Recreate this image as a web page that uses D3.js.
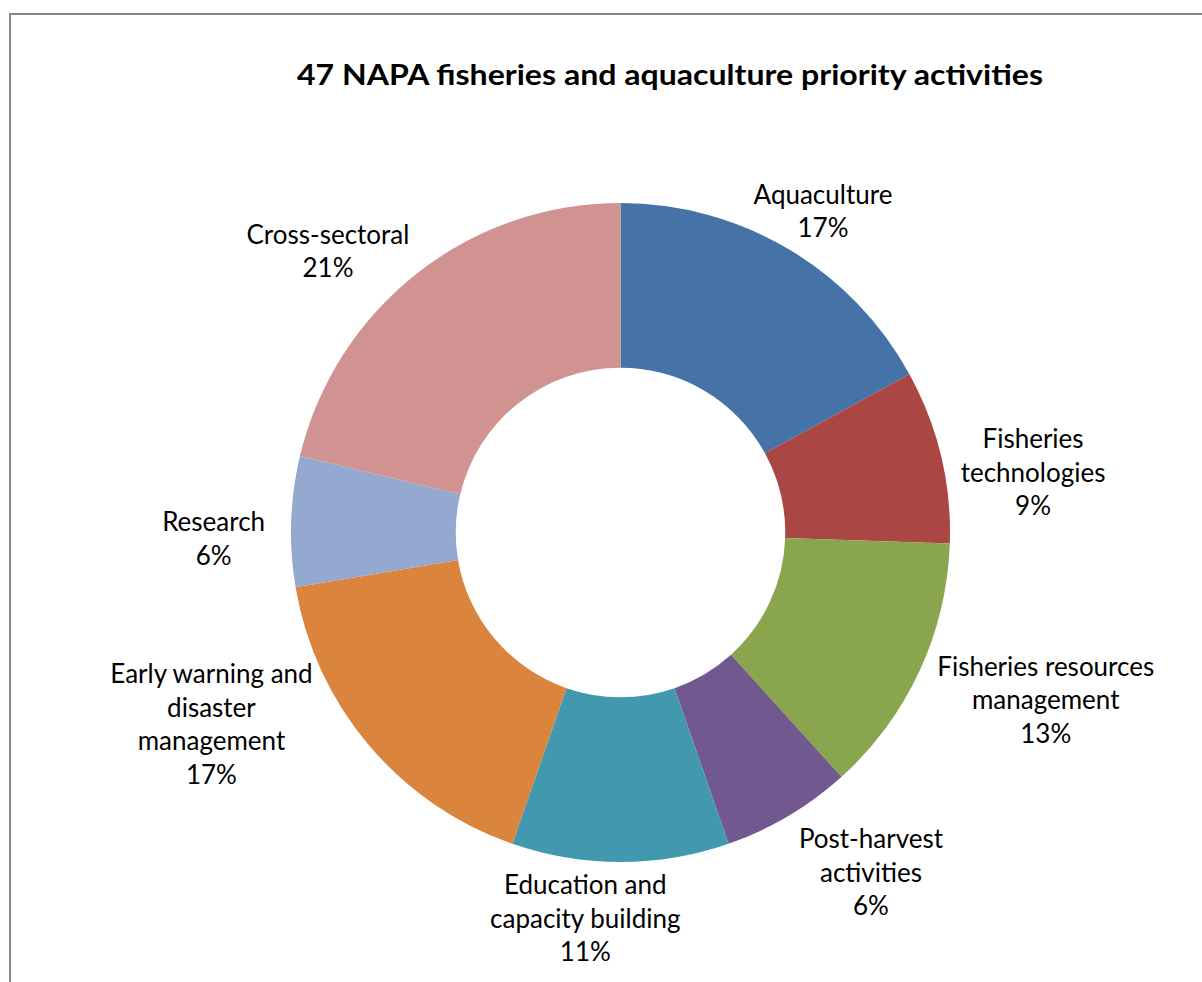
<!DOCTYPE html>
<html>
<head>
<meta charset="utf-8">
<script src="https://cdn.jsdelivr.net/npm/d3@7"></script>
<style>
  html, body { margin: 0; padding: 0; background: #ffffff; overflow: hidden; }
  svg { display: block; }
</style>
</head>
<body>
<svg id="chart" width="1202" height="982"></svg>
<script>
// Priority activity groups (line breaks as shown on the labels)
const categories = [
  "Aquaculture",
  "Fisheries\ntechnologies",
  "Fisheries resources\nmanagement",
  "Post-harvest\nactivities",
  "Education and\ncapacity building",
  "Early warning and\ndisaster\nmanagement",
  "Research",
  "Cross-sectoral"
];
// Number of NAPA activities in each group (47 in total)
const activityCounts = [8, 4, 6, 3, 5, 8, 3, 10];
const sliceColors = ["#4572A7", "#AA4643", "#89A54E", "#71588F", "#4198AF", "#DB843D", "#93A9CF", "#D19392"];
const chartTitle = "47 NAPA fisheries and aquaculture priority activities";

// ---- layout ----
const width = 1202, height = 982;
const cx = 620.5, cy = 532.5;
const outerR = 329.5, innerR = outerR * 0.5;
const fontFamily = "Lato, 'Liberation Sans', sans-serif";
const labelSize = 26, lineHeight = 33.5, capHalf = 8.5;
// label block centre for each slice: [angle in degrees clockwise from 12 o'clock, distance / outer radius]
const labelPlacement = [
  [32.3, 1.150], [81.8, 1.265], [111.6, 1.388], [143.7, 1.284],
  [185.2, 1.179], [244.8, 1.372], [269.0, 1.235], [313.8, 1.230]
];

const svg = d3.select("#chart");

// chart area frame
svg.append("path")
  .attr("d", `M10,${height} V14 H${width}`)
  .attr("fill", "none")
  .attr("stroke", "#868686")
  .attr("stroke-width", 2);

svg.append("text")
  .attr("x", 670)
  .attr("y", 85)
  .attr("text-anchor", "middle")
  .attr("font-family", fontFamily)
  .attr("font-weight", "bold")
  .attr("font-size", 29)
  .attr("textLength", 746)
  .attr("lengthAdjust", "spacingAndGlyphs")
  .attr("fill", "#000")
  .text(chartTitle);

const data = categories.map((name, i) => ({ name, count: activityCounts[i], color: sliceColors[i] }));
const total = d3.sum(activityCounts);
const pct = d3.format(".0%");

const pie = d3.pie().sort(null).value(d => d.count);
const arc = d3.arc().innerRadius(innerR).outerRadius(outerR);
const arcs = pie(data);

const g = svg.append("g").attr("transform", `translate(${cx},${cy})`);

g.selectAll("path.slice")
  .data(arcs)
  .join("path")
  .attr("class", "slice")
  .attr("d", arc)
  .attr("fill", d => d.data.color);

g.selectAll("text.label")
  .data(arcs)
  .join("text")
  .attr("class", "label")
  .attr("text-anchor", "middle")
  .attr("font-family", fontFamily)
  .attr("font-size", labelSize)
  .attr("fill", "#000")
  .each(function (d, i) {
    const [deg, f] = labelPlacement[i];
    const a = deg * Math.PI / 180;
    const x = Math.sin(a) * outerR * f;
    const y = -Math.cos(a) * outerR * f;
    const lines = d.data.name.split("\n").concat(pct(d.data.count / total));
    const firstBaseline = y - (lines.length - 1) * lineHeight / 2 + capHalf;
    d3.select(this).selectAll("tspan")
      .data(lines)
      .join("tspan")
      .attr("x", x)
      .attr("y", (t, k) => firstBaseline + k * lineHeight)
      .text(t => t);
  });
</script>
</body>
</html>
